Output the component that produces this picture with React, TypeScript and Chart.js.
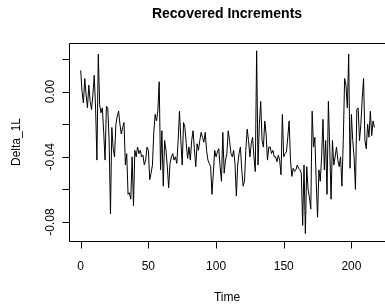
import React, { useEffect, useRef } from "react";
import { Chart, registerables } from "chart.js";

Chart.register(...registerables);

const TITLE = "Recovered Increments";
const X_TITLE = "Time";
const Y_TITLE = "Delta_1L";
const T_START = 0;
const X_TICKS = [0, 50, 100, 150, 200];
const Y_TICKS = [-0.08, -0.06, -0.04, -0.02, 0.0, 0.02];
const Y_LABELED = [-0.08, -0.04, 0.0];

const DELTA_1L = [
  0.013, 0.0, -0.007, 0.008, -0.002, -0.01, 0.004, -0.006, -0.011, -0.002,
  0.01, -0.01, -0.042, 0.023, -0.008, -0.013, -0.01, -0.025, -0.042, -0.009,
  -0.01, -0.03, -0.075, -0.022, -0.035, -0.04, -0.02, -0.015, -0.012, -0.02,
  -0.026, -0.022, -0.019, -0.045, -0.038, -0.063, -0.062, -0.066, -0.04, -0.07,
  -0.036, -0.04, -0.034, -0.038, -0.036, -0.04, -0.039, -0.045, -0.042, -0.034,
  -0.036, -0.054, -0.05, -0.045, -0.025, -0.014, -0.018, -0.012, 0.006, -0.048,
  -0.024, -0.058, -0.03, -0.036, -0.046, -0.059, -0.044, -0.04, -0.038, -0.042,
  -0.04, -0.044, -0.03, -0.012, -0.03, -0.045, -0.019, -0.022, -0.032, -0.041,
  -0.034, -0.042, -0.03, -0.024, -0.035, -0.046, -0.032, -0.036, -0.03, -0.025,
  -0.028, -0.031, -0.025, -0.036, -0.042, -0.044, -0.046, -0.063, -0.05, -0.036,
  -0.04, -0.037, -0.035, -0.046, -0.055, -0.025, -0.05, -0.042, -0.038, -0.024,
  -0.03, -0.038, -0.04, -0.036, -0.044, -0.064, -0.045, -0.038, -0.034, -0.048,
  -0.058, -0.055, -0.036, -0.023, -0.03, -0.04, -0.032, -0.028, -0.04, -0.049,
  0.025, -0.045, -0.02, -0.006, -0.03, -0.034, -0.018, -0.026, -0.042, -0.034,
  -0.034, -0.038, -0.036, -0.04, -0.04, -0.043, -0.039, -0.042, -0.051, -0.014,
  -0.04, -0.038, -0.037, -0.028, -0.018, -0.042, -0.052, -0.047, -0.049, -0.048,
  -0.045, -0.047, -0.048, -0.05, -0.082, -0.045, -0.087, -0.046, -0.06, -0.065,
  -0.072, -0.012, -0.034, -0.028, -0.055, -0.077, -0.048, -0.055, -0.04, -0.017,
  -0.048, -0.03, -0.063, -0.006, -0.035, -0.066, -0.03, -0.045, -0.04, -0.034,
  -0.042, -0.046, -0.04, -0.058, -0.03, 0.008, 0.004, -0.01, 0.023, -0.047,
  -0.014, -0.03, -0.04, -0.06, -0.011, -0.01, -0.03, -0.02, -0.004, 0.008,
  -0.03, -0.035, -0.02, -0.028, -0.012, -0.027, -0.018, -0.022,
];

const FONT = '"Liberation Sans", Arial, Helvetica, sans-serif';

const rStylePlugin = {
  id: "rStyle",
  beforeDraw(chart: any) {
    const ctx = chart.ctx;
    ctx.save();
    ctx.fillStyle = "#ffffff";
    ctx.fillRect(0, 0, chart.width, chart.height);
    ctx.restore();
  },
  afterDraw(chart: any) {
    const ctx = chart.ctx;
    const { left, top, right, bottom } = chart.chartArea;
    const xs = chart.scales.x;
    const ys = chart.scales.y;
    ctx.save();
    ctx.strokeStyle = "#000";
    ctx.fillStyle = "#000";
    ctx.lineWidth = 1;
    // box
    const L = Math.round(left) + 0.5;
    const T = Math.round(top) + 0.5;
    const B = Math.round(bottom) + 0.5;
    const R = Math.round(right) + 1.5;
    ctx.beginPath();
    ctx.moveTo(R, T);
    ctx.lineTo(L, T);
    ctx.lineTo(L, B);
    ctx.lineTo(R, B);
    ctx.stroke();
    // x ticks
    ctx.beginPath();
    X_TICKS.forEach((v) => {
      const px = Math.round(xs.getPixelForValue(v)) + 0.5;
      ctx.moveTo(px, B);
      ctx.lineTo(px, B + 7);
    });
    ctx.stroke();
    ctx.font = `12px ${FONT}`;
    ctx.textAlign = "center";
    ctx.textBaseline = "middle";
    X_TICKS.forEach((v) => {
      const px = xs.getPixelForValue(v);
      ctx.fillText(String(v), px, B + 25);
    });
    // y ticks
    ctx.beginPath();
    Y_TICKS.forEach((v) => {
      const py = Math.round(ys.getPixelForValue(v)) + 0.5;
      ctx.moveTo(L, py);
      ctx.lineTo(L - 7, py);
    });
    ctx.stroke();
    Y_LABELED.forEach((v) => {
      const py = ys.getPixelForValue(v);
      ctx.save();
      ctx.translate(L - 19, py);
      ctx.rotate(-Math.PI / 2);
      ctx.fillText(v.toFixed(2), 0, 0);
      ctx.restore();
    });
    // axis titles
    const cx = (left + right) / 2;
    ctx.fillText(X_TITLE, cx, 298);
    ctx.save();
    ctx.translate(17, (top + bottom) / 2);
    ctx.rotate(-Math.PI / 2);
    ctx.fillText(Y_TITLE, 0, 0);
    ctx.restore();
    // title
    ctx.font = `bold 14px ${FONT}`;
    ctx.fillText(TITLE, cx, 14);
    ctx.restore();
  },
};

export default function App() {
  const ref = useRef<HTMLCanvasElement | null>(null);
  useEffect(() => {
    if (!ref.current) return;
    const points = DELTA_1L.map((v, i) => ({ x: T_START + i, y: v }));
    const chart = new Chart(ref.current, {
      type: "line",
      data: {
        datasets: [
          {
            data: points,
            borderColor: "#000",
            borderWidth: 1,
            pointRadius: 0,
            tension: 0,
            fill: false,
          },
        ],
      },
      options: {
        animation: false,
        responsive: false,
        events: [],
        layout: { padding: { left: 69, top: 43, right: 0, bottom: 66 } },
        plugins: { legend: { display: false }, title: { display: false }, tooltip: { enabled: false } },
        scales: {
          x: { type: "linear", display: false, min: -8.64, max: 224.83 },
          y: { type: "linear", display: false, min: -0.0916, max: 0.0298 },
        },
      },
      plugins: [rStylePlugin],
    });
    return () => chart.destroy();
  }, []);
  return (
    <div style={{ position: "absolute", left: 0, top: 0, width: 385, height: 307, overflow: "hidden" }}>
      <canvas ref={ref} width={385} height={307} style={{ display: "block", width: 385, height: 307 }} />
    </div>
  );
}
